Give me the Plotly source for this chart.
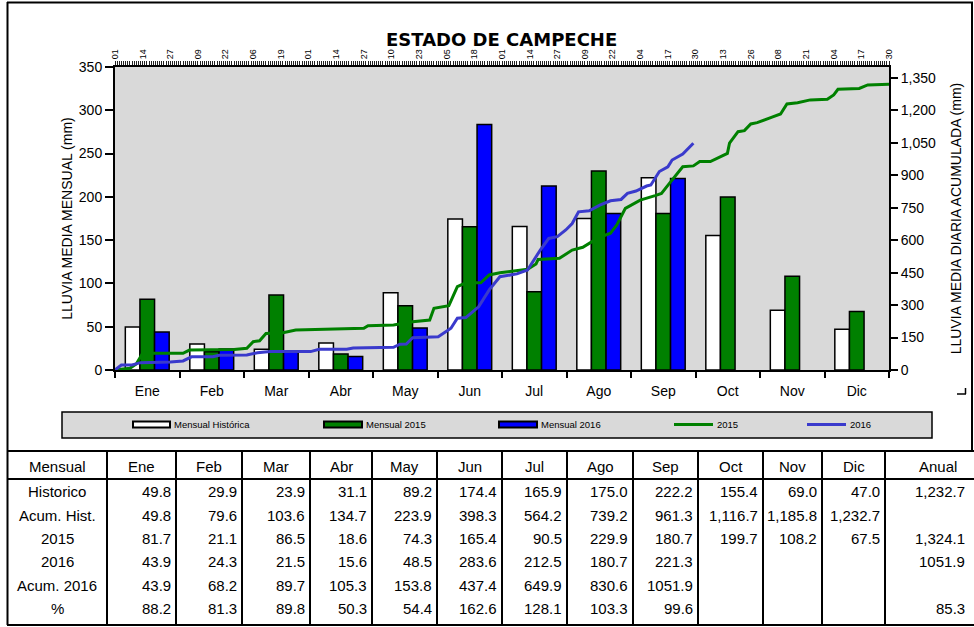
import plotly.graph_objects as go

# ---------------- DATA ----------------
months = ['Ene', 'Feb', 'Mar', 'Abr', 'May', 'Jun', 'Jul', 'Ago', 'Sep', 'Oct', 'Nov', 'Dic']
historico = [49.8, 29.9, 23.9, 31.1, 89.2, 174.4, 165.9, 175.0, 222.2, 155.4, 69.0, 47.0]
acum_hist = [49.8, 79.6, 103.6, 134.7, 223.9, 398.3, 564.2, 739.2, 961.3, 1116.7, 1185.8, 1232.7]
mensual_2015 = [81.7, 21.1, 86.5, 18.6, 74.3, 165.4, 90.5, 229.9, 180.7, 199.7, 108.2, 67.5]
mensual_2016 = [43.9, 24.3, 21.5, 15.6, 48.5, 283.6, 212.5, 180.7, 221.3, None, None, None]
acum_2016 = [43.9, 68.2, 89.7, 105.3, 153.8, 437.4, 649.9, 830.6, 1051.9, None, None, None]
porcentaje = [88.2, 81.3, 89.8, 50.3, 54.4, 162.6, 128.1, 103.3, 99.6, None, None, None]
anual_hist = 1232.7
anual_2015 = 1324.1
anual_2016 = 1051.9
anual_pct = 85.3

# daily accumulated rainfall (day of year index, mm)
dias_2015 = [0, 7, 10, 12, 13, 32, 35, 56, 62, 65, 68, 71, 79, 85, 117, 119, 131, 140, 148, 150,
             157, 161, 165, 172, 176, 181, 194, 198, 199, 209, 215, 220, 227, 233, 236, 240, 247,
             254, 257, 261, 267, 272, 275, 280, 285, 288, 289, 293, 296, 299, 302, 305, 309, 313,
             316, 321, 327, 335, 338, 340, 350, 354, 364]
acum_diaria_2015 = [0, 8, 28, 62, 77, 77, 92, 95, 100, 131, 135, 169, 172, 185, 193, 205, 208, 223, 231, 285,
                    297, 385, 403, 403, 439, 449, 465, 490, 511, 516, 554, 567, 609, 632, 670, 747, 785,
                    806, 816, 866, 939, 943, 963, 963, 986, 1001, 1048, 1101, 1106, 1137, 1143, 1155, 1168, 1183,
                    1229, 1235, 1248, 1251, 1271, 1297, 1301, 1317, 1320]
dias_2016 = [0, 3, 8, 12, 26, 32, 36, 46, 49, 62, 67, 73, 92, 96, 109, 112, 131, 134, 137, 140,
             152, 158, 161, 165, 171, 176, 181, 189, 194, 196, 200, 204, 208, 212, 215, 218, 223,
             228, 233, 238, 241, 245, 250, 252, 256, 260, 262, 267, 269, 272]
acum_diaria_2016 = [0, 23, 23, 34, 37, 42, 61, 61, 68, 69, 80, 85, 85, 96, 96, 102, 105, 119, 120, 149,
                    154, 193, 239, 242, 292, 370, 431, 444, 462, 493, 554, 608, 616, 647, 677, 731, 736,
                    762, 782, 788, 816, 827, 850, 855, 917, 939, 970, 998, 1017, 1048]

top_tick_days = [0, 13, 26, 39, 52, 65, 78, 91, 104, 117, 130, 143, 156, 169, 182, 195, 208, 221,
                 234, 247, 260, 273, 286, 299, 312, 325, 338, 351, 364]
top_tick_labels = ['01', '14', '27', '09', '22', '06', '19', '01', '14', '27', '10', '23', '05', '18',
                   '01', '14', '27', '09', '22', '04', '17', '30', '13', '26', '08', '21', '04', '17', '30']

# ---------------- GEOMETRY ----------------
W, H = 974, 627
L, R, T, B = 115, 889, 67, 370
FONT = 'Liberation Sans, Arial, sans-serif'


def px(x):
    return (x - L) / (R - L)


def py(y):
    return (B - y) / (B - T)


fig = go.Figure()
fig.add_trace(go.Bar(x=months, y=historico, name='Mensual Histórica',
                     marker=dict(color='white', line=dict(color='black', width=1.5))))
fig.add_trace(go.Bar(x=months, y=mensual_2015, name='Mensual 2015',
                     marker=dict(color='#008000', line=dict(color='black', width=1.5))))
fig.add_trace(go.Bar(x=months, y=mensual_2016, name='Mensual 2016',
                     marker=dict(color='#0000FF', line=dict(color='black', width=1.5))))
fig.add_trace(go.Scatter(x=dias_2015, y=acum_diaria_2015, name='2015', mode='lines',
                         line=dict(color='#008000', width=3), xaxis='x2', yaxis='y2'))
fig.add_trace(go.Scatter(x=dias_2016, y=acum_diaria_2016, name='2016', mode='lines',
                         line=dict(color='#3A3ACC', width=3), xaxis='x2', yaxis='y2'))

shapes = []
annotations = []


def hline(x0, x1, y, w=2):
    shapes.append(dict(type='line', xref='paper', yref='paper', x0=px(x0), x1=px(x1), y0=py(y), y1=py(y),
                       line=dict(color='black', width=w)))


def vline(x, y0, y1, w=2):
    shapes.append(dict(type='line', xref='paper', yref='paper', x0=px(x), x1=px(x), y0=py(y0), y1=py(y1),
                       line=dict(color='black', width=w)))


def text(x, y, s, size=15, anchor='center', **kw):
    annotations.append(dict(xref='paper', yref='paper', x=px(x), y=py(y), text=s, showarrow=False,
                            xanchor=anchor, yanchor='middle', font=dict(family=FONT, size=size, color='black'), **kw))


# outer frame
hline(7, 973, 2.5)
vline(7.5, 2, 625)
vline(972, 2, 451)

# title
annotations.append(dict(xref='paper', yref='paper', x=px(501), y=py(40), text='<b>ESTADO DE CAMPECHE</b>',
                        showarrow=False, xanchor='center', yanchor='middle',
                        font=dict(family='DejaVu Sans, sans-serif', size=18, color='black')))

# legend box
shapes.append(dict(type='rect', xref='paper', yref='paper', x0=px(62), x1=px(932), y0=py(438), y1=py(412),
                   fillcolor='#D9D9D9', line=dict(color='black', width=1.5)))
leg_y = 424.5
for (x0, x1, fill, label) in [(133, 170, 'white', 'Mensual Histórica'),
                              (324, 362, '#008000', 'Mensual 2015'),
                              (499, 537, '#0000FF', 'Mensual 2016')]:
    shapes.append(dict(type='rect', xref='paper', yref='paper', x0=px(x0), x1=px(x1),
                       y0=py(leg_y + 3), y1=py(leg_y - 3), fillcolor=fill, line=dict(color='black', width=2)))
    text(x1 + 2, leg_y, label, size=9.5, anchor='left')
for (x0, x1, col, label) in [(674, 713, '#008000', '2015'), (807, 846, '#3A3ACC', '2016')]:
    shapes.append(dict(type='line', xref='paper', yref='paper', x0=px(x0), x1=px(x1), y0=py(leg_y), y1=py(leg_y),
                       line=dict(color=col, width=3)))
    text(x1 + 2, leg_y, label, size=9.5, anchor='left')

# small corner mark
hline(957, 966, 394, 1.5)
vline(965.5, 388, 394, 1.5)

# ---------------- TABLE ----------------
col_lines = [7, 107, 176, 242, 310, 372, 437, 502, 567, 633, 698, 763, 822, 885]
table_top, header_bottom, table_bottom = 451, 479, 625
hline(7, 974, table_top)
hline(7, 974, header_bottom)
hline(7, 974, table_bottom)
for xl in col_lines[1:]:
    vline(xl, table_top, table_bottom)

header_y = 466
text(57, header_y, 'Mensual')
for i, m in enumerate(months):
    text((col_lines[i + 1] + col_lines[i + 2]) / 2, header_y, m)
text(938, header_y, 'Anual')


def fmt(v, comma):
    if v is None:
        return ''
    return f'{v:,.1f}' if comma else f'{v:.1f}'


rows = [('Historico', historico, anual_hist, True),
        ('Acum. Hist.', acum_hist, None, True),
        ('2015', mensual_2015, anual_2015, True),
        ('2016', mensual_2016, anual_2016, False),
        ('Acum. 2016', acum_2016, None, False),
        ('%', porcentaje, anual_pct, False)]
row_y = [491.5, 515, 538, 561.5, 585, 608]
for (label, vals, anual, comma), yy in zip(rows, row_y):
    text(57, yy, label)
    for i, v in enumerate(vals):
        s = fmt(v, comma)
        if s:
            text(col_lines[i + 2] - 3, yy, s, anchor='right')
    if anual is not None:
        text(967, yy, fmt(anual, comma), anchor='right')

axis_common = dict(showgrid=False, zeroline=False, showline=True, linecolor='black', linewidth=2,
                   tickcolor='black', tickfont=dict(family=FONT, size=14, color='black'))

fig.update_layout(
    width=W, height=H,
    margin=dict(l=L, r=W - R, t=T, b=H - B, pad=0),
    paper_bgcolor='white', plot_bgcolor='#D9D9D9',
    barmode='group', bargap=0.32, bargroupgap=0,
    showlegend=False,
    font=dict(family=FONT, size=14, color='black'),
    xaxis=dict(type='category', range=[-0.5, 11.5], ticks='outside', tickson='boundaries', ticklen=6,
               tickwidth=1.5, ticklabelstandoff=7, **axis_common),
    yaxis=dict(range=[0, 350], dtick=50, ticks='outside', ticklen=8, tickwidth=1.5,
               title=dict(text='LLUVIA MEDIA MENSUAL (mm)', font=dict(family=FONT, size=14), standoff=3),
               **axis_common),
    xaxis2=dict(overlaying='x', side='top', anchor='y', range=[0, 364], tickmode='array',
                tickvals=top_tick_days, ticktext=top_tick_labels, tickangle=-90, ticks='outside', ticklen=4,
                tickwidth=1,
                minor=dict(tickmode='linear', tick0=0, dtick=1, ticks='outside', ticklen=4, tickwidth=1,
                           tickcolor='#222', showgrid=False),
                showgrid=False, zeroline=False, showline=True, linecolor='black', linewidth=2, tickcolor='#222',
                tickfont=dict(family=FONT, size=9, color='black')),
    yaxis2=dict(overlaying='y', side='right', anchor='x', range=[0, 1400], dtick=150, tickformat=',',
                ticks='outside', ticklen=7, tickwidth=1.5,
                title=dict(text='LLUVIA MEDIA DIARIA ACUMULADA (mm)', font=dict(family=FONT, size=14), standoff=16),
                **axis_common),
    shapes=shapes,
    annotations=annotations,
)

fig.write_html('out.html', config={'displayModeBar': False},
               post_script="document.body.style.margin='0';document.body.style.overflow='hidden';")
